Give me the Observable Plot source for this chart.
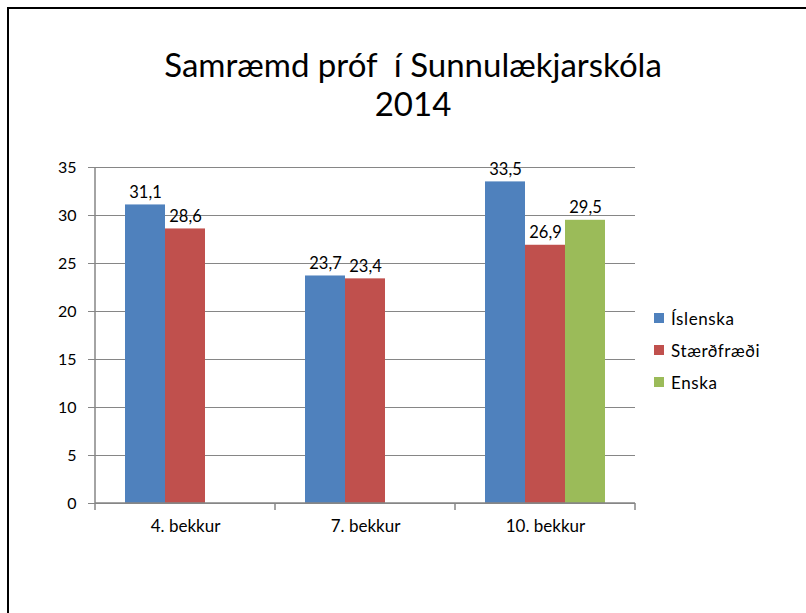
<!DOCTYPE html>
<html>
<head>
<meta charset="utf-8">
<script src="https://cdn.jsdelivr.net/npm/d3@7"></script>
<script src="https://cdn.jsdelivr.net/npm/@observablehq/plot@0.6"></script>
<style>
  html, body { margin: 0; padding: 0; background: #fff; overflow: hidden; }
  #wrap { position: relative; width: 806px; height: 613px; overflow: hidden; font-family: Lato, "Open Sans", sans-serif; }
  #border { position: absolute; left: 7px; top: 7px; width: 900px; height: 700px; border-left: 2.5px solid #000; border-top: 2.5px solid #000; box-sizing: border-box; }
  #chart { position: absolute; left: 0; top: 0; }
  .title { position: absolute; left: 0; width: 826px; text-align: center; font-size: 33px; color: #000; white-space: pre; }
  .legend { position: absolute; left: 654px; font-size: 17px; letter-spacing: 0.6px; color: #000; white-space: pre; display: flex; align-items: center; height: 20px; }
  .legend span.sw { display: inline-block; width: 10px; height: 10px; margin-right: 7px; }
</style>
</head>
<body>
<div id="wrap">
  <div id="border"></div>
  <div id="chart"></div>
  <div class="title" id="t1" style="top:44px"></div>
  <div class="title" id="t2" style="top:83px"></div>
  <div id="legend"></div>
</div>
<script>
const titleLines = ["Samræmd próf  í Sunnulækjarskóla", "2014"];
const grades = ["4. bekkur", "7. bekkur", "10. bekkur"];
const subjects = ["Íslenska", "Stærðfræði", "Enska"];
const colors = ["#4F81BD", "#C0504D", "#9BBB59"];
const islenska = [31.1, 23.7, 33.5];
const staerdfraedi = [28.6, 23.4, 26.9];
const enska = [null, null, 29.5];
const yTicks = [0, 5, 10, 15, 20, 25, 30, 35];

const series = [islenska, staerdfraedi, enska];
const data = [];
grades.forEach((g, i) => {
  subjects.forEach((s, j) => {
    const v = series[j][i];
    if (v != null) data.push({grade: g, subject: s, value: v});
  });
});

const fmt = v => v.toFixed(1).replace(".", ",");

const plot = Plot.plot({
  width: 806,
  height: 613,
  marginLeft: 94,
  marginRight: 171,
  marginTop: 167,
  marginBottom: 110,
  style: {fontFamily: "Lato, 'Open Sans', sans-serif", fontSize: "16px", color: "#000", background: "transparent"},
  fx: {domain: grades, padding: 0, label: null},
  x: {domain: subjects, paddingInner: 0, paddingOuter: 0.75, axis: null},
  y: {domain: [0, 35], label: null},
  color: {domain: subjects, range: colors},
  marks: [
    Plot.gridY(yTicks, {stroke: "#868686", strokeOpacity: 1}),
    Plot.axisY(yTicks, {tickSize: 7, tickPadding: 12, label: null, stroke: "#868686", fill: "#000", fontSize: 16}),
    Plot.axisFx({anchor: "bottom", tickSize: 0, tickPadding: 16, label: null, fill: "#000", fontSize: 17, letterSpacing: "0.6px"}),
    Plot.barY(data, {fx: "grade", x: "subject", y: "value", fill: "subject"}),
    Plot.text(data, {fx: "grade", x: "subject", y: "value", text: d => fmt(d.value), lineAnchor: "bottom", dy: -7, fill: "#000", fontSize: 16.5})
  ]
});
document.getElementById("chart").appendChild(plot);

// axis lines and category boundary ticks, positioned from the plot's scales
const fxS = plot.scale("fx");
const yS = plot.scale("y");
const svg = d3.select(plot);
const y0 = yS.apply(0), yTop = yS.apply(35);
const left = fxS.apply(grades[0]);
const right = fxS.apply(grades[grades.length - 1]) + fxS.bandwidth;
const g = svg.append("g").attr("stroke", "#868686").attr("stroke-width", 1.5);
g.append("line").attr("x1", left).attr("x2", left).attr("y1", yTop).attr("y2", y0);
g.append("line").attr("x1", left).attr("x2", right).attr("y1", y0).attr("y2", y0);
const bounds = grades.map(d => fxS.apply(d)).concat([right]);
bounds.forEach(x => g.append("line").attr("x1", x).attr("x2", x).attr("y1", y0).attr("y2", y0 + 7));

document.getElementById("t1").textContent = titleLines[0];
document.getElementById("t2").textContent = titleLines[1];

const leg = document.getElementById("legend");
subjects.forEach((s, i) => {
  const div = document.createElement("div");
  div.className = "legend";
  div.style.top = (308 + i * 32) + "px";
  const sw = document.createElement("span");
  sw.className = "sw";
  sw.style.background = colors[i];
  div.appendChild(sw);
  div.appendChild(document.createTextNode(s));
  leg.appendChild(div);
});
</script>
</body>
</html>
